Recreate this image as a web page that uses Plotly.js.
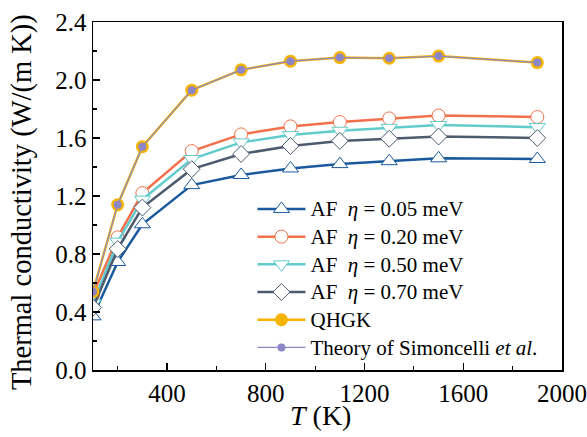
<!DOCTYPE html>
<html>
<head>
<meta charset="utf-8">
<script src="https://cdn.plot.ly/plotly-3.0.1.min.js"></script>
<style>html,body{margin:0;padding:0;background:#fff;}#chart{width:587px;height:437px;}</style>
</head>
<body>
<div id="chart"></div>
<script>
const temperature = [100, 200, 300, 500, 700, 900, 1100, 1300, 1500, 1900];
const af005 = [0.37, 0.745, 1.005, 1.275, 1.345, 1.39, 1.42, 1.44, 1.46, 1.455];
const af020 = [0.52, 0.915, 1.22, 1.51, 1.625, 1.68, 1.71, 1.735, 1.755, 1.745];
const af050 = [0.46, 0.885, 1.175, 1.455, 1.57, 1.62, 1.65, 1.67, 1.69, 1.675];
const af070 = [0.43, 0.835, 1.12, 1.385, 1.49, 1.545, 1.58, 1.595, 1.61, 1.60];
const qhgk = [0.54, 1.14, 1.54, 1.93, 2.07, 2.13, 2.155, 2.15, 2.165, 2.12];
const simoncelli = [0.54, 1.14, 1.54, 1.93, 2.07, 2.13, 2.155, 2.15, 2.165, 2.12];
const seriesNames = [
  "AF  <i>η</i> = 0.05 meV",
  "AF  <i>η</i> = 0.20 meV",
  "AF  <i>η</i> = 0.50 meV",
  "AF  <i>η</i> = 0.70 meV",
  "QHGK",
  "Theory of Simoncelli <i>et al</i>."
];
const xTickVals = [400, 800, 1200, 1600, 2000];
const yTickVals = [0.0, 0.4, 0.8, 1.2, 1.6, 2.0, 2.4];
const xTitle = "<i>T</i> (K)";
const yTitle = "Thermal conductivity (W/(m K))";

const FONT = "Liberation Serif, Times New Roman, serif";
const big = s => '<span style="font-size:21px">' + s + '</span>';

function afTrace(y, name, color, symbol, size) {
  return {
    x: temperature, y: y, name: big(name), type: "scatter", mode: "lines+markers",
    line: {color: color, width: 2.5},
    marker: {symbol: symbol, size: size, color: "#ffffff", line: {color: color, width: 1}}
  };
}

const traces = [
  afTrace(af005, seriesNames[0], "#1a5a9c", "triangle-up", 14),
  afTrace(af020, seriesNames[1], "#f2714b", "circle", 13),
  afTrace(af050, seriesNames[2], "#62cbcb", "triangle-down", 14),
  afTrace(af070, seriesNames[3], "#4e5a6e", "diamond", 13),
  {
    x: temperature, y: qhgk, name: big(seriesNames[4]), type: "scatter", mode: "lines+markers",
    line: {color: "#f6b400", width: 2.5},
    marker: {symbol: "circle", size: 13, color: "#f6b400"}
  },
  {
    x: temperature, y: simoncelli, name: big(seriesNames[5]), type: "scatter", mode: "lines+markers",
    line: {color: "#8c86c6", width: 1.2},
    marker: {symbol: "circle", size: 8, color: "#8c86c6"}
  }
];

const layout = {
  width: 587, height: 437,
  margin: {l: 93, r: 25, t: 22, b: 67},
  paper_bgcolor: "#ffffff", plot_bgcolor: "#ffffff",
  font: {family: FONT, color: "#000000", size: 24},
  showlegend: true,
  legend: {
    x: 0.34, y: 0.517, xanchor: "left", yanchor: "top",
    bgcolor: "rgba(0,0,0,0)", borderwidth: 0,
    font: {family: FONT, size: 19, color: "#000"},
    itemwidth: 48, tracegroupgap: 0
  },
  xaxis: {
    range: [100, 2000], tickvals: xTickVals, ticktext: xTickVals.map(String),
    ticks: "inside", ticklen: 7, tickwidth: 1.2, tickcolor: "#000",
    showline: true, linecolor: "#000", linewidth: 1.5, mirror: true,
    showgrid: false, zeroline: false,
    tickfont: {family: FONT, size: 25},
    minor: {tickvals: [200, 600, 1000, 1400, 1800], ticks: "inside", ticklen: 4, tickwidth: 1.2, tickcolor: "#000", showgrid: false}
  },
  yaxis: {
    range: [0, 2.4], tickvals: yTickVals, ticktext: yTickVals.map(v => v.toFixed(1)),
    ticks: "inside", ticklen: 7, tickwidth: 1.2, tickcolor: "#000",
    showline: true, linecolor: "#000", linewidth: 1.5, mirror: true,
    showgrid: false, zeroline: false,
    tickfont: {family: FONT, size: 25},
    minor: {tickvals: [0.2, 0.6, 1.0, 1.4, 1.8, 2.2], ticks: "inside", ticklen: 4, tickwidth: 1.2, tickcolor: "#000", showgrid: false}
  },
  annotations: [
    {text: xTitle, xref: "paper", yref: "paper", x: 0.486, y: -0.132, xanchor: "center", yanchor: "middle",
     showarrow: false, font: {family: FONT, size: 28, color: "#000"}},
    {text: yTitle, xref: "paper", yref: "paper", x: -0.151, y: 0.483, xanchor: "center", yanchor: "middle",
     textangle: -90, showarrow: false, font: {family: FONT, size: 28.5, color: "#000"}}
  ]
};

Plotly.newPlot("chart", traces, layout, {displayModeBar: false, staticPlot: true});
</script>
</body>
</html>
